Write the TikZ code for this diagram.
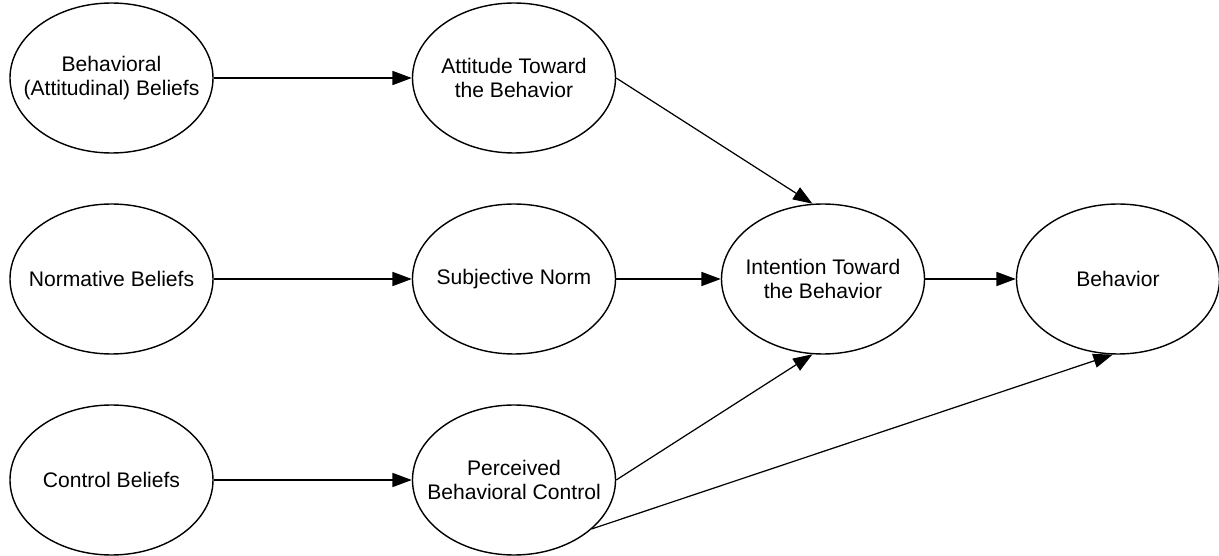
\documentclass[tikz,border=0pt]{standalone}
\usepackage{fontspec}
\setmainfont{Liberation Sans}
\usepackage{tikz}
\usetikzlibrary{shapes.geometric, arrows.meta, positioning, calc}

\begin{document}
\begin{tikzpicture}[font=\fontsize{12}{13.2}\selectfont,
    construto/.style={ellipse,draw,line width=0.8pt,minimum width=4.06cm,
      minimum height=3.0cm,inner sep=0pt,
      label={[align=center,font=\fontsize{12}{13.2}\selectfont]center:#1}},
    seta/.style={-{Triangle[length=11pt,width=8pt]},line width=0.7pt}]
  \def\ca{2.23}   % coluna das crenças
  \def\cb{10.28}  % coluna dos construtos
  \def\cc{16.46}  % intenção
  \def\cd{22.36}  % comportamento
  \useasboundingbox (0,0) rectangle (24.38,-11.12);

  % ---------- crenças ----------
  \node[construto={Behavioral\\(Attitudinal) Beliefs}] (bel) at (\ca,-1.56) {};
  \node[construto={Normative Beliefs}] (nor) at (\ca,-5.58) {};
  \node[construto={Control Beliefs}] (ctl) at (\ca,-9.60) {};

  % ---------- construtos ----------
  \node[construto={Attitude Toward\\the Behavior}] (att) at (\cb,-1.56) {};
  \node[construto={Subjective Norm}] (sub) at (\cb,-5.58) {};
  \node[construto={Perceived\\Behavioral Control}] (pbc) at (\cb,-9.60) {};

  % ---------- intenção e comportamento ----------
  \node[construto={Intention Toward\\the Behavior}] (int) at (\cc,-5.58) {};
  \node[construto={Behavior}] (beh) at (\cd,-5.58) {};

  \draw[seta] (bel) -- (att);
  \draw[seta] (nor) -- (sub);
  \draw[seta] (ctl) -- (pbc);
  \draw[seta] (sub) -- (int);
  \draw[seta] (int) -- (beh);
  \draw[seta] (att.east) -- (int.98);
  \draw[seta] (pbc.east) -- (int.262);
  \draw[seta] (pbc.-32) -- (beh.266);
\end{tikzpicture}
\end{document}
